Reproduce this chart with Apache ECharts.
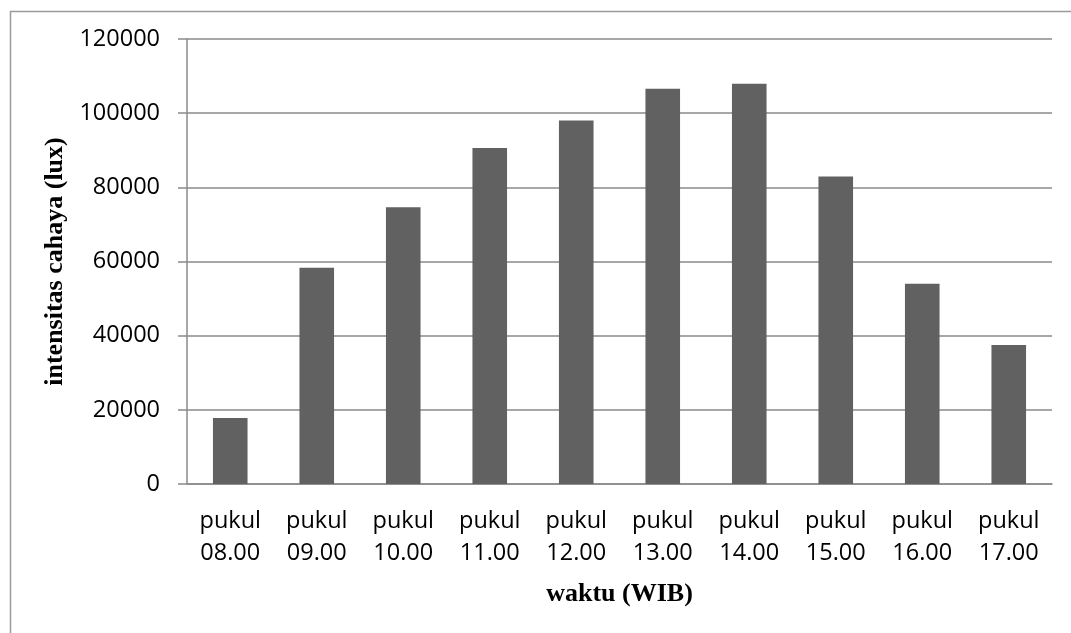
<!DOCTYPE html>
<html>
<head>
<meta charset="utf-8">
<script src="https://cdn.jsdelivr.net/npm/echarts@6/dist/echarts.min.js"></script>
<style>
  html, body { margin: 0; padding: 0; background: #fff; }
  #chart { width: 1071px; height: 633px; }
</style>
</head>
<body>
<div id="chart"></div>
<script>
// Light intensity measured each hour of the day
const categories = ['pukul\n08.00', 'pukul\n09.00', 'pukul\n10.00', 'pukul\n11.00', 'pukul\n12.00',
                    'pukul\n13.00', 'pukul\n14.00', 'pukul\n15.00', 'pukul\n16.00', 'pukul\n17.00'];
const intensity = [17800, 58300, 74600, 90600, 98000, 106600, 107900, 82900, 54000, 37500];
const yMin = 0;
const yMax = 120000;
const yStep = 20000;

const gridGray = '#8a8a8a';
const chart = echarts.init(document.getElementById('chart'), null, { renderer: 'canvas' });

chart.setOption({
  animation: false,
  backgroundColor: '#ffffff',
  graphic: [{
    type: 'rect',
    left: 8, top: 9,
    shape: { width: 1100, height: 700 },
    style: { fill: 'none', stroke: '#9a9a9a', lineWidth: 1.5 },
    silent: true
  }],
  grid: { left: 187, right: 19, top: 39, bottom: 149, containLabel: false },
  xAxis: {
    type: 'category',
    data: categories,
    name: 'waktu (WIB)',
    nameLocation: 'middle',
    nameGap: 97,
    nameTextStyle: { fontFamily: 'Liberation Serif', fontWeight: 'bold', fontSize: 26, color: '#000' },
    axisLine: { lineStyle: { color: gridGray, width: 1.5 } },
    axisTick: { show: false },
    axisLabel: {
      interval: 0, margin: 21,
      fontFamily: 'Open Sans', fontSize: 23.5, lineHeight: 32, color: '#000'
    }
  },
  yAxis: {
    type: 'value',
    min: yMin, max: yMax, interval: yStep,
    name: 'intensitas cahaya (lux)',
    nameLocation: 'middle',
    nameGap: 113,
    nameTextStyle: { fontFamily: 'Liberation Serif', fontWeight: 'bold', fontSize: 26, color: '#000' },
    axisLine: { show: true, lineStyle: { color: gridGray, width: 1.5 } },
    axisTick: { show: true, length: 9, lineStyle: { color: gridGray, width: 1.5 } },
    splitLine: { lineStyle: { color: gridGray, width: 1.5 } },
    axisLabel: {
      margin: 27, fontFamily: 'Open Sans', fontSize: 23.5, color: '#000',
      formatter: (v) => String(v)
    }
  },
  series: [{
    type: 'bar',
    data: intensity,
    barWidth: '40%',
    itemStyle: { color: '#616161' }
  }]
});
</script>
</body>
</html>
